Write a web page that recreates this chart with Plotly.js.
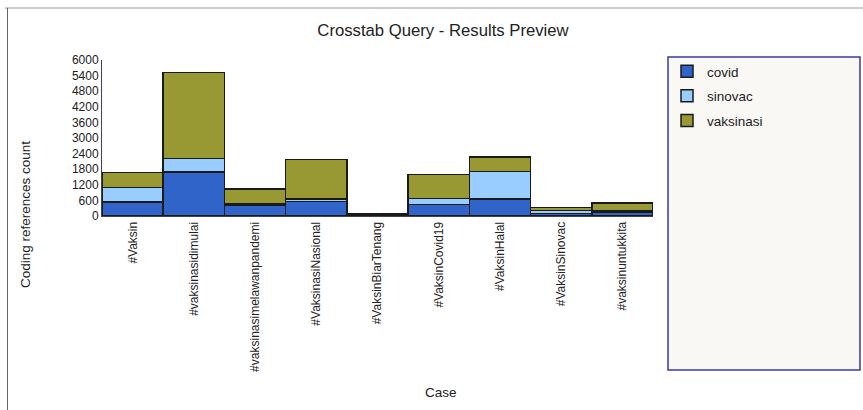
<!DOCTYPE html>
<html>
<head>
<meta charset="utf-8">
<script src="https://cdn.plot.ly/plotly-3.0.1.min.js"></script>
<style>
html,body{margin:0;padding:0;background:#fff;}
#chart{width:863px;height:410px;}
</style>
</head>
<body>
<div id="chart"></div>
<script>
const categories = ["#Vaksin","#vaksinasidimulai","#vaksinasimelawanpandemi","#VaksinasiNasional","#VaksinBiarTenang","#VaksinCovid19","#VaksinHalal","#VaksinSinovac","#vaksinuntukkita"];
const covid     = [540, 1690, 420, 560, 40, 450, 660, 90, 160];
const sinovac   = [560, 520, 40, 90, 10, 230, 1060, 130, 25];
const vaksinasi = [580, 3300, 570, 1530, 40, 920, 550, 110, 320];
const yTicks = [0,600,1200,1800,2400,3000,3600,4200,4800,5400,6000];

const W = 863, H = 410;
const L = 102, R = 653, T = 60, B = 216;
const px = x => (x - L) / (R - L);
const py = y => (B - y) / (B - T);

const font = "Liberation Sans, Arial, sans-serif";
const lineSpec = {color:'#1a1a1a', width:1.5};

const traces = [
  {name:'covid', y:covid, color:'#3064c8'},
  {name:'sinovac', y:sinovac, color:'#99ccff'},
  {name:'vaksinasi', y:vaksinasi, color:'#999933'}
].map(s => ({
  type:'bar', name:s.name, x:categories, y:s.y, legendgroup:s.name,
  marker:{color:s.color, line:lineSpec},
  hoverinfo:'x+y+name'
}));

const layout = {
  width:W, height:H,
  margin:{l:L, r:W-R, t:T, b:H-B, pad:0},
  paper_bgcolor:'#ffffff', plot_bgcolor:'#ffffff',
  barmode:'stack', bargap:0,
  font:{family:font, color:'#222', size:12},
  title:{text:'Crosstab Query - Results Preview', font:{size:16.7, color:'#222', family:font},
         x:443/W, xref:'container', xanchor:'center', y:1-30/H, yref:'container', yanchor:'middle'},
  xaxis:{type:'category', tickangle:-90, showgrid:false, showline:true, linecolor:'#444', linewidth:1,
         ticks:'', tickfont:{size:12, color:'#222'}, automargin:false, fixedrange:true},
  yaxis:{range:[0,6000], tickvals:yTicks, ticktext:yTicks.map(String), showgrid:false, zeroline:false,
         showline:true, linecolor:'#444', linewidth:1, ticks:'', ticklen:0, tickfont:{size:12, color:'#222'},
         automargin:false, fixedrange:true},
  showlegend:true,
  legend:{x:px(667), y:py(56), xanchor:'left', yanchor:'top', bgcolor:'rgba(0,0,0,0)', borderwidth:0,
          traceorder:'grouped', tracegroupgap:4, font:{size:13.5, color:'#222', family:font}, itemclick:false},
  shapes:[
    {type:'rect', xref:'paper', yref:'paper', x0:px(668), x1:px(860), y0:py(370), y1:py(57),
     line:{color:'#3a3aa8', width:1.5}, fillcolor:'#f9f8f4', layer:'below'},
    {type:'line', xref:'paper', yref:'paper', x0:px(5), x1:px(863), y0:py(8), y1:py(8),
     line:{color:'#999', width:1}},
    {type:'line', xref:'paper', yref:'paper', x0:px(7.5), x1:px(7.5), y0:py(8), y1:py(410),
     line:{color:'#666', width:1}}
  ],
  annotations:[
    {text:'Coding references count', xref:'paper', yref:'paper', x:px(25), y:py(215), textangle:-90,
     showarrow:false, font:{size:13.5, color:'#222', family:font}, xanchor:'center', yanchor:'middle'},
    {text:'Case', xref:'paper', yref:'paper', x:px(441), y:py(392),
     showarrow:false, font:{size:13.5, color:'#222', family:font}, xanchor:'center', yanchor:'middle'}
  ]
};

Plotly.newPlot('chart', traces, layout, {displayModeBar:false, staticPlot:true});
</script>
</body>
</html>
